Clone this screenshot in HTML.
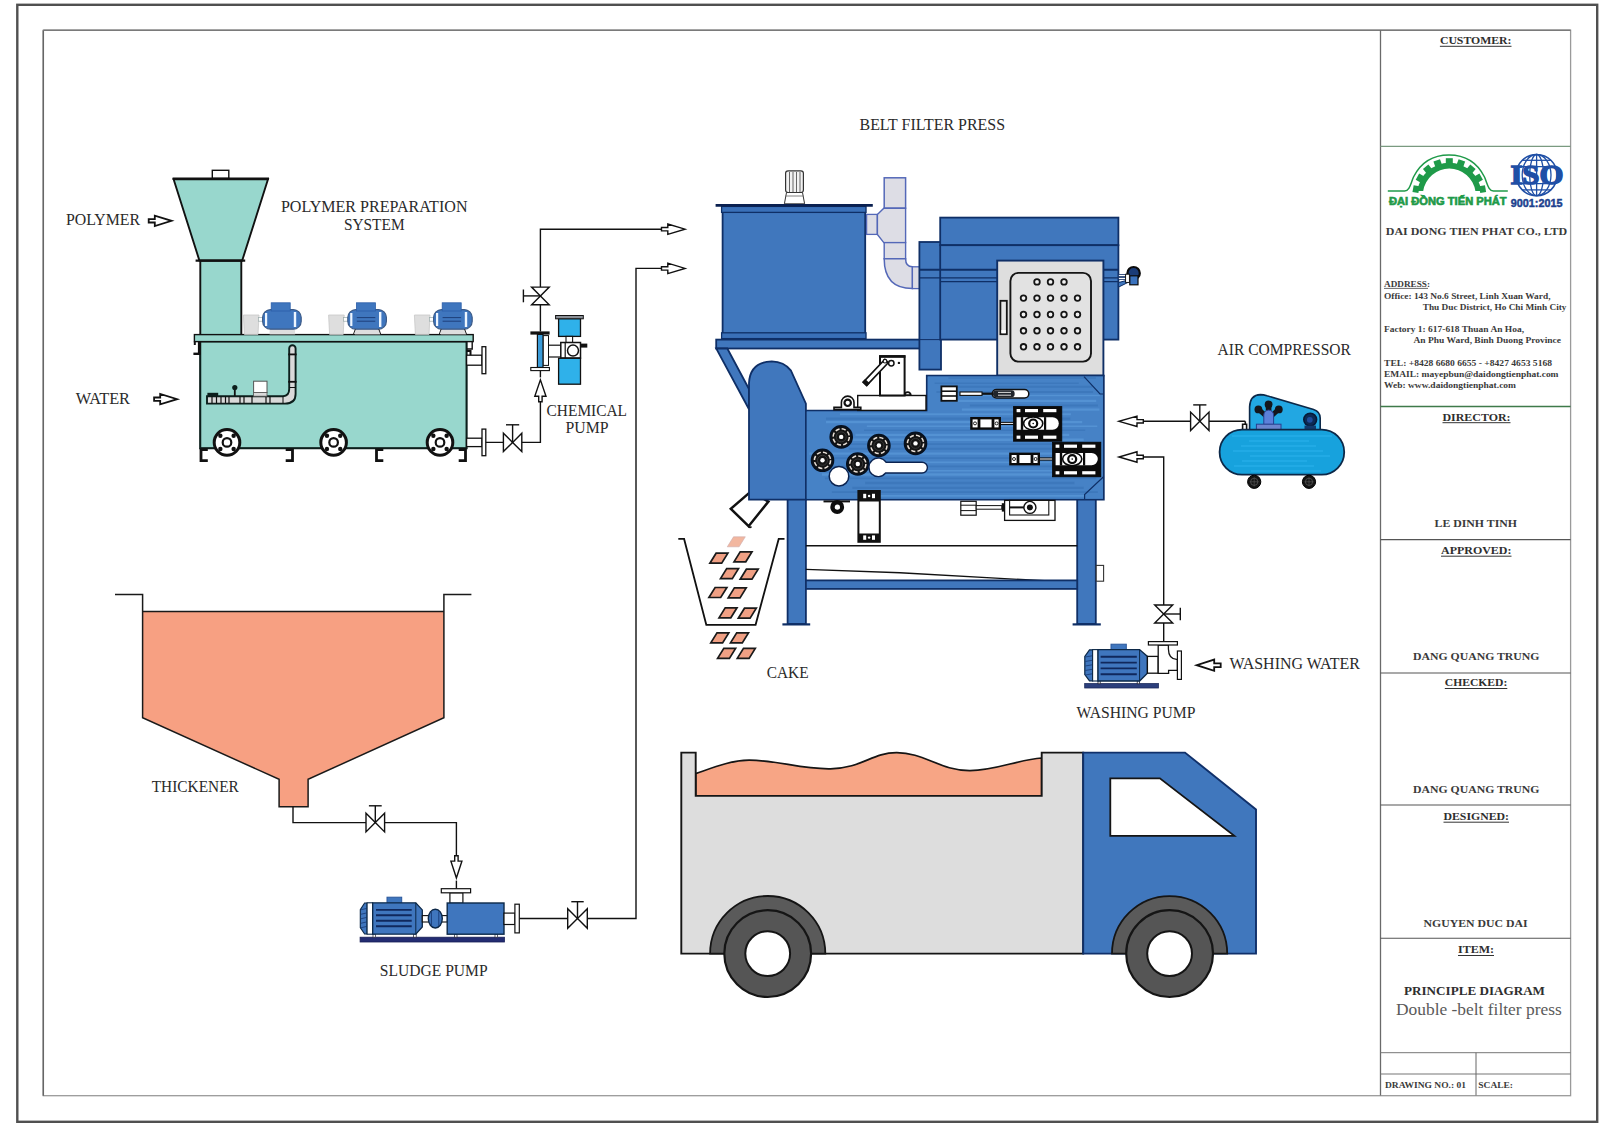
<!DOCTYPE html>
<html lang="en"><head><meta charset="utf-8"><title>Principle diagram - Double-belt filter press</title>
<style>html,body{margin:0;padding:0;background:#fff;}body{width:1600px;height:1140px;overflow:hidden;}svg{display:block;}</style>
</head><body>
<svg width="1600" height="1140" viewBox="0 0 1600 1140">
<rect x="0" y="0" width="1600" height="1140" fill="#ffffff"/>
<!-- sheet borders -->
<rect x="17.3" y="4.8" width="1579.9" height="1117" fill="none" stroke="#505050" stroke-width="2.4" />
<rect x="43.3" y="30.2" width="1527.3" height="1065.5" fill="none" stroke="#9a9a9a" stroke-width="1.3" />
<line x1="43.3" y1="30.2" x2="43.3" y2="1095.7" stroke="#666" stroke-width="1.5" />
<line x1="43.3" y1="30.2" x2="1570.6" y2="30.2" stroke="#7a7a7a" stroke-width="1.4" />
<!-- title block -->
<line x1="1380.5" y1="30.2" x2="1380.5" y2="1095.4" stroke="#6a6a6a" stroke-width="1.3" />
<line x1="1380.5" y1="146.4" x2="1570.6" y2="146.4" stroke="#7a9a80" stroke-width="1.1" />
<line x1="1380.5" y1="406.5" x2="1570.6" y2="406.5" stroke="#3e7a4a" stroke-width="1.3" />
<line x1="1380.5" y1="539.6" x2="1570.6" y2="539.6" stroke="#555" stroke-width="1.1" />
<line x1="1380.5" y1="673" x2="1570.6" y2="673" stroke="#555" stroke-width="1.1" />
<line x1="1380.5" y1="805" x2="1570.6" y2="805" stroke="#555" stroke-width="1.1" />
<line x1="1380.5" y1="938.3" x2="1570.6" y2="938.3" stroke="#555" stroke-width="1.1" />
<line x1="1380.5" y1="1052.7" x2="1570.6" y2="1052.7" stroke="#777" stroke-width="1" />
<line x1="1380.5" y1="1074" x2="1570.6" y2="1074" stroke="#777" stroke-width="1.2" />
<line x1="1476" y1="1052.7" x2="1476" y2="1095.4" stroke="#666" stroke-width="1" />
<text x="1439.9" y="44.1" font-size="10.7" font-weight="bold" fill="#2e2e2e" textLength="71.6" lengthAdjust="spacingAndGlyphs" font-family="'Liberation Serif','Times New Roman',serif" >CUSTOMER:</text>
<line x1="1439.9" y1="46.3" x2="1511.5" y2="46.3" stroke="#333" stroke-width="1" />
<text x="1442.5" y="420.5" font-size="10.7" font-weight="bold" fill="#2e2e2e" textLength="68" lengthAdjust="spacingAndGlyphs" font-family="'Liberation Serif','Times New Roman',serif" >DIRECTOR:</text>
<line x1="1442.5" y1="422.7" x2="1510.5" y2="422.7" stroke="#333" stroke-width="1" />
<text x="1441" y="554" font-size="10.7" font-weight="bold" fill="#2e2e2e" textLength="70.5" lengthAdjust="spacingAndGlyphs" font-family="'Liberation Serif','Times New Roman',serif" >APPROVED:</text>
<line x1="1441" y1="556.2" x2="1511.5" y2="556.2" stroke="#333" stroke-width="1" />
<text x="1444.8" y="686.3" font-size="10.7" font-weight="bold" fill="#2e2e2e" textLength="62.5" lengthAdjust="spacingAndGlyphs" font-family="'Liberation Serif','Times New Roman',serif" >CHECKED:</text>
<line x1="1444.8" y1="688.5" x2="1507.3" y2="688.5" stroke="#333" stroke-width="1" />
<text x="1443.5" y="820" font-size="10.7" font-weight="bold" fill="#2e2e2e" textLength="65.5" lengthAdjust="spacingAndGlyphs" font-family="'Liberation Serif','Times New Roman',serif" >DESIGNED:</text>
<line x1="1443.5" y1="822.2" x2="1509" y2="822.2" stroke="#333" stroke-width="1" />
<text x="1458" y="953.3" font-size="10.7" font-weight="bold" fill="#2e2e2e" textLength="36" lengthAdjust="spacingAndGlyphs" font-family="'Liberation Serif','Times New Roman',serif" >ITEM:</text>
<line x1="1458" y1="955.5" x2="1494" y2="955.5" stroke="#333" stroke-width="1" />
<text x="1434.5" y="526.7" font-size="10.6" font-weight="bold" fill="#3a3a3a" textLength="82.5" lengthAdjust="spacingAndGlyphs" font-family="'Liberation Serif','Times New Roman',serif" >LE DINH TINH</text>
<text x="1413" y="660.2" font-size="10.6" font-weight="bold" fill="#3a3a3a" textLength="126.5" lengthAdjust="spacingAndGlyphs" font-family="'Liberation Serif','Times New Roman',serif" >DANG QUANG TRUNG</text>
<text x="1413" y="792.9" font-size="10.6" font-weight="bold" fill="#3a3a3a" textLength="126.5" lengthAdjust="spacingAndGlyphs" font-family="'Liberation Serif','Times New Roman',serif" >DANG QUANG TRUNG</text>
<text x="1423.5" y="926.7" font-size="10.6" font-weight="bold" fill="#3a3a3a" textLength="104" lengthAdjust="spacingAndGlyphs" font-family="'Liberation Serif','Times New Roman',serif" >NGUYEN DUC DAI</text>
<text x="1385.8" y="235.2" font-size="10.9" font-weight="bold" fill="#3a3a3a" textLength="181.4" lengthAdjust="spacingAndGlyphs" font-family="'Liberation Serif','Times New Roman',serif" >DAI DONG TIEN PHAT CO., LTD</text>
<text x="1384" y="286.8" font-size="8.8" font-weight="bold" fill="#3a3a3a" textLength="46" lengthAdjust="spacingAndGlyphs" font-family="'Liberation Serif','Times New Roman',serif" >ADDRESS:</text>
<line x1="1384" y1="288.4" x2="1428" y2="288.4" stroke="#444" stroke-width="0.8" />
<text x="1384" y="298.8" font-size="8.6" font-weight="bold" fill="#3a3a3a" textLength="166.5" lengthAdjust="spacingAndGlyphs" font-family="'Liberation Serif','Times New Roman',serif" >Office: 143 No.6 Street, Linh Xuan Ward,</text>
<text x="1422.7" y="310" font-size="8.6" font-weight="bold" fill="#3a3a3a" textLength="143.8" lengthAdjust="spacingAndGlyphs" font-family="'Liberation Serif','Times New Roman',serif" >Thu Duc District, Ho Chi Minh City</text>
<text x="1384" y="332" font-size="8.6" font-weight="bold" fill="#3a3a3a" textLength="140" lengthAdjust="spacingAndGlyphs" font-family="'Liberation Serif','Times New Roman',serif" >Factory 1: 617-618 Thuan An Hoa,</text>
<text x="1413.5" y="343" font-size="8.6" font-weight="bold" fill="#3a3a3a" textLength="147.5" lengthAdjust="spacingAndGlyphs" font-family="'Liberation Serif','Times New Roman',serif" >An Phu Ward, Binh Duong Province</text>
<text x="1384" y="365.6" font-size="8.6" font-weight="bold" fill="#3a3a3a" textLength="168" lengthAdjust="spacingAndGlyphs" font-family="'Liberation Serif','Times New Roman',serif" >TEL: +8428 6680 6655 - +8427 4653 5168</text>
<text x="1384" y="377.2" font-size="8.8" font-weight="bold" fill="#3a3a3a" textLength="174.5" lengthAdjust="spacingAndGlyphs" font-family="'Liberation Serif','Times New Roman',serif" >EMAIL: mayepbun@daidongtienphat.com</text>
<text x="1384" y="388.3" font-size="8.6" font-weight="bold" fill="#3a3a3a" textLength="132" lengthAdjust="spacingAndGlyphs" font-family="'Liberation Serif','Times New Roman',serif" >Web: www.daidongtienphat.com</text>
<text x="1404" y="995" font-size="12.6" font-weight="bold" fill="#2e2e2e" textLength="141" lengthAdjust="spacingAndGlyphs" font-family="'Liberation Serif','Times New Roman',serif" >PRINCIPLE DIAGRAM</text>
<text x="1396" y="1015" font-size="17" font-weight="normal" fill="#5a5a5a" textLength="165.7" lengthAdjust="spacingAndGlyphs" font-family="'Liberation Serif','Times New Roman',serif" >Double -belt filter press</text>
<text x="1385" y="1088.4" font-size="8.8" font-weight="bold" fill="#3a3a3a" textLength="81" lengthAdjust="spacingAndGlyphs" font-family="'Liberation Serif','Times New Roman',serif" >DRAWING NO.: 01</text>
<text x="1478.3" y="1088.4" font-size="8.8" font-weight="bold" fill="#3a3a3a" textLength="34.7" lengthAdjust="spacingAndGlyphs" font-family="'Liberation Serif','Times New Roman',serif" >SCALE:</text>
<!-- logo -->
<path d="M 1387.8 191 L 1404.6 191 C 1409.5 191 1410.5 184 1413.5 177 C 1421 162 1434 155 1449 155 C 1464 155 1477 162 1484.5 177 C 1487.5 184 1488.5 191 1493.4 191 L 1507.8 191" fill="none" stroke="#1f9a49" stroke-width="1.5" />
<path d="M 1417.35 191 A 32.2 32.2 0 0 1 1481.25 191 L 1475.4 191 A 26.4 26.4 0 0 0 1423.2 191 Z" fill="#1f9a49" stroke="none" stroke-width="1" />
<rect x="-3.5" y="-3.0" width="7.0" height="6.0" fill="#1f9a49" transform="translate(1416.01 189.13) rotate(280)"/>
<rect x="-3.5" y="-3.0" width="7.0" height="6.0" fill="#1f9a49" transform="translate(1420.03 178.1) rotate(300)"/>
<rect x="-3.5" y="-3.0" width="7.0" height="6.0" fill="#1f9a49" transform="translate(1427.57 169.11) rotate(320)"/>
<rect x="-3.5" y="-3.0" width="7.0" height="6.0" fill="#1f9a49" transform="translate(1437.74 163.24) rotate(340)"/>
<rect x="-3.5" y="-3.0" width="7.0" height="6.0" fill="#1f9a49" transform="translate(1449.3 161.2) rotate(360)"/>
<rect x="-3.5" y="-3.0" width="7.0" height="6.0" fill="#1f9a49" transform="translate(1460.86 163.24) rotate(380)"/>
<rect x="-3.5" y="-3.0" width="7.0" height="6.0" fill="#1f9a49" transform="translate(1471.03 169.11) rotate(400)"/>
<rect x="-3.5" y="-3.0" width="7.0" height="6.0" fill="#1f9a49" transform="translate(1478.57 178.1) rotate(420)"/>
<rect x="-3.5" y="-3.0" width="7.0" height="6.0" fill="#1f9a49" transform="translate(1482.59 189.13) rotate(440)"/>
<text x="1389" y="204.8" font-size="11.7" font-weight="bold" fill="#1f9a49" textLength="117.6" lengthAdjust="spacingAndGlyphs" font-family="'Liberation Sans',Arial,sans-serif" stroke="#1f9a49" stroke-width="0.7">ĐẠI ĐỒNG TIẾN PHÁT</text>
<circle cx="1536.6" cy="175.1" r="20.6" fill="none" stroke="#1f4fa6" stroke-width="1.6" />
<ellipse cx="1536.6" cy="175.1" rx="7" ry="20.6" fill="none" stroke="#1f4fa6" stroke-width="1.3"/>
<ellipse cx="1536.6" cy="175.1" rx="14.4" ry="20.6" fill="none" stroke="#1f4fa6" stroke-width="1.3"/>
<line x1="1536.6" y1="154.5" x2="1536.6" y2="195.7" stroke="#1f4fa6" stroke-width="1.3" />
<line x1="1522.27" y1="160.3" x2="1550.93" y2="160.3" stroke="#1f4fa6" stroke-width="1.3" />
<line x1="1517.84" y1="166.6" x2="1555.36" y2="166.6" stroke="#1f4fa6" stroke-width="1.3" />
<line x1="1517.84" y1="183.6" x2="1555.36" y2="183.6" stroke="#1f4fa6" stroke-width="1.3" />
<line x1="1522.27" y1="189.9" x2="1550.93" y2="189.9" stroke="#1f4fa6" stroke-width="1.3" />
<text x="1510.4" y="184.4" font-size="27.5" font-weight="bold" fill="#1f4fa6" textLength="53" lengthAdjust="spacingAndGlyphs" font-family="'Liberation Serif','Times New Roman',serif" stroke="#1f4fa6" stroke-width="1.5" paint-order="stroke">ISO</text>
<rect x="1510" y="197.4" width="53.4" height="10" fill="#fff" stroke="none" stroke-width="1" />
<text x="1510.8" y="206.6" font-size="11.7" font-weight="bold" fill="#1c3f8e" textLength="51.6" lengthAdjust="spacingAndGlyphs" font-family="'Liberation Sans',Arial,sans-serif" stroke="#1c3f8e" stroke-width="0.5">9001:2015</text>
<!-- polymer preparation system -->
<rect x="212.3" y="170.3" width="16.5" height="8.2" fill="#fff" stroke="#111" stroke-width="1.4" />
<rect x="200.3" y="260.5" width="41" height="74.5" fill="#98d7cd" stroke="#111" stroke-width="1.9" />
<polygon points="173.6,179.3 268,179.3 242.2,260.5 199.4,260.5" fill="#98d7cd" stroke="#111" stroke-width="1.9" stroke-linejoin="miter" />
<line x1="172.6" y1="178.8" x2="269" y2="178.8" stroke="#111" stroke-width="2.6" />
<line x1="195.6" y1="260.6" x2="245.2" y2="260.6" stroke="#111" stroke-width="2.4" />
<rect x="200.2" y="341.4" width="266.4" height="106.8" fill="#98d7cd" stroke="#0c1f1c" stroke-width="2.1" />
<rect x="194.4" y="334.6" width="278.8" height="7" fill="#98d7cd" stroke="#111" stroke-width="1.4" />
<line x1="199.4" y1="341.6" x2="199.4" y2="354.6" stroke="#111" stroke-width="3" />
<line x1="193.4" y1="353.8" x2="200.4" y2="353.8" stroke="#111" stroke-width="2.4" />
<line x1="194.8" y1="341.4" x2="194.8" y2="345" stroke="#111" stroke-width="2" />
<polyline points="472.2,341.6 472.2,349 467,349" fill="none" stroke="#111" stroke-width="1.4" />
<polyline points="207.8,449.6 201,449.6 201,460.6 207.8,460.6" fill="none" stroke="#111" stroke-width="2.8" />
<polyline points="285.7,449.6 292.5,449.6 292.5,460.6 285.7,460.6" fill="none" stroke="#111" stroke-width="2.8" />
<polyline points="383.3,449.6 376.5,449.6 376.5,460.6 383.3,460.6" fill="none" stroke="#111" stroke-width="2.8" />
<polyline points="458.7,449.6 465.5,449.6 465.5,460.6 458.7,460.6" fill="none" stroke="#111" stroke-width="2.8" />
<circle cx="227" cy="442.4" r="12.8" fill="#fff" stroke="#111" stroke-width="3" />
<circle cx="227" cy="442.4" r="4.3" fill="#fff" stroke="#111" stroke-width="2.2" />
<circle cx="233.65" cy="449.05" r="2.2" fill="#111" stroke="none" stroke-width="1" />
<circle cx="220.35" cy="449.05" r="2.2" fill="#111" stroke="none" stroke-width="1" />
<circle cx="220.35" cy="435.75" r="2.2" fill="#111" stroke="none" stroke-width="1" />
<circle cx="233.65" cy="435.75" r="2.2" fill="#111" stroke="none" stroke-width="1" />
<circle cx="333.6" cy="442.4" r="12.8" fill="#fff" stroke="#111" stroke-width="3" />
<circle cx="333.6" cy="442.4" r="4.3" fill="#fff" stroke="#111" stroke-width="2.2" />
<circle cx="340.25" cy="449.05" r="2.2" fill="#111" stroke="none" stroke-width="1" />
<circle cx="326.95" cy="449.05" r="2.2" fill="#111" stroke="none" stroke-width="1" />
<circle cx="326.95" cy="435.75" r="2.2" fill="#111" stroke="none" stroke-width="1" />
<circle cx="340.25" cy="435.75" r="2.2" fill="#111" stroke="none" stroke-width="1" />
<circle cx="440" cy="442.4" r="12.8" fill="#fff" stroke="#111" stroke-width="3" />
<circle cx="440" cy="442.4" r="4.3" fill="#fff" stroke="#111" stroke-width="2.2" />
<circle cx="446.65" cy="449.05" r="2.2" fill="#111" stroke="none" stroke-width="1" />
<circle cx="433.35" cy="449.05" r="2.2" fill="#111" stroke="none" stroke-width="1" />
<circle cx="433.35" cy="435.75" r="2.2" fill="#111" stroke="none" stroke-width="1" />
<circle cx="446.65" cy="435.75" r="2.2" fill="#111" stroke="none" stroke-width="1" />
<rect x="466.6" y="355.2" width="15.4" height="10" fill="#fff" stroke="#111" stroke-width="1.3" />
<rect x="482" y="346.7" width="3.8" height="27" fill="#fff" stroke="#111" stroke-width="1.3" />
<polyline points="466.8,351 470.5,351 470.5,355.2" fill="none" stroke="#111" stroke-width="2" />
<rect x="466.6" y="438.2" width="15.4" height="8.4" fill="#fff" stroke="#111" stroke-width="1.3" />
<rect x="482" y="429.1" width="3.8" height="26.6" fill="#fff" stroke="#111" stroke-width="1.3" />
<path d="M 207 396.2 L 283 396.2 Q 289.2 396 289.2 389 L 289.2 348.5 A 3.2 3.2 0 0 1 295.6 348.5 L 295.6 394 Q 295.6 403.6 285 403.6 L 207 403.6 Z" fill="#d9d9d9" stroke="#0c1f1c" stroke-width="1.9" />
<line x1="212" y1="396.2" x2="212" y2="403.6" stroke="#111" stroke-width="1.2" />
<line x1="216.5" y1="396.2" x2="216.5" y2="403.6" stroke="#111" stroke-width="1.2" />
<line x1="221" y1="396.2" x2="221" y2="403.6" stroke="#111" stroke-width="1.2" />
<line x1="225.5" y1="396.2" x2="225.5" y2="403.6" stroke="#111" stroke-width="1.2" />
<line x1="229" y1="396.2" x2="229" y2="403.6" stroke="#111" stroke-width="1.2" />
<line x1="240" y1="396.2" x2="240" y2="403.6" stroke="#111" stroke-width="1.2" />
<line x1="244" y1="396.2" x2="244" y2="403.6" stroke="#111" stroke-width="1.2" />
<line x1="252" y1="396.2" x2="252" y2="403.6" stroke="#111" stroke-width="1.2" />
<line x1="266" y1="396.2" x2="266" y2="403.6" stroke="#111" stroke-width="1.2" />
<line x1="270" y1="396.2" x2="270" y2="403.6" stroke="#111" stroke-width="1.2" />
<rect x="207.4" y="392.8" width="10.8" height="3.4" fill="#0c1f1c" stroke="none" stroke-width="1" />
<line x1="288.2" y1="354.4" x2="296.6" y2="354.4" stroke="#111" stroke-width="1.8" />
<line x1="288.2" y1="381.8" x2="296.6" y2="381.8" stroke="#111" stroke-width="1.8" />
<line x1="289.2" y1="387.5" x2="295.6" y2="387.5" stroke="#111" stroke-width="1" />
<line x1="283" y1="396.2" x2="283" y2="403.6" stroke="#111" stroke-width="1" />
<line x1="234.8" y1="396" x2="234.8" y2="388.5" stroke="#111" stroke-width="1.8" />
<circle cx="234.8" cy="387.6" r="2.6" fill="#0c1f1c" stroke="none" stroke-width="1" />
<rect x="253.6" y="381.2" width="13.4" height="11.3" fill="#fff" stroke="#555" stroke-width="1" />
<rect x="253.6" y="392.5" width="13.4" height="3.7" fill="#d9d9d9" stroke="#555" stroke-width="0.8" />
<polygon points="243.4,315 259,315 258,334.4 244.4,334.4" fill="#dedede" stroke="#c8c8c8" stroke-width="0.8" stroke-linejoin="miter" />
<rect x="258.4" y="317.6" width="6" height="3.6" fill="#fff" stroke="#9aa" stroke-width="0.7" />
<rect x="269.6" y="328.5" width="25.5" height="5.9" fill="#dedede" stroke="none" stroke-width="1" />
<rect x="262.6" y="309.6" width="38.6" height="19.6" fill="#3f76be" stroke="#3c5a86" stroke-width="1.2" rx="8" />
<rect x="265" y="313" width="2.2" height="13" fill="#eef6ff" stroke="none" stroke-width="1" />
<rect x="293.8" y="312" width="2.4" height="15" fill="#eef6ff" stroke="none" stroke-width="1" />
<rect x="271.2" y="302.8" width="19" height="8.2" fill="#3f76be" stroke="#2b5ea8" stroke-width="0.8" />
<polygon points="328.6,315 344.2,315 343.2,334.4 329.6,334.4" fill="#dedede" stroke="#c8c8c8" stroke-width="0.8" stroke-linejoin="miter" />
<rect x="343.6" y="317.6" width="6" height="3.6" fill="#fff" stroke="#9aa" stroke-width="0.7" />
<rect x="354.8" y="328.5" width="25.5" height="5.9" fill="#dedede" stroke="none" stroke-width="1" />
<rect x="347.8" y="309.6" width="38.6" height="19.6" fill="#3f76be" stroke="#3c5a86" stroke-width="1.2" rx="8" />
<rect x="350.2" y="313" width="2.2" height="13" fill="#eef6ff" stroke="none" stroke-width="1" />
<rect x="379" y="312" width="2.4" height="15" fill="#eef6ff" stroke="none" stroke-width="1" />
<rect x="356.4" y="302.8" width="19" height="8.2" fill="#3f76be" stroke="#2b5ea8" stroke-width="0.8" />
<line x1="356.8" y1="317.6" x2="375.3" y2="317.6" stroke="#1d3f7a" stroke-width="1" />
<line x1="356.8" y1="321.2" x2="375.3" y2="321.2" stroke="#1d3f7a" stroke-width="1" />
<line x1="355.3" y1="329.2" x2="353.4" y2="334.4" stroke="#222" stroke-width="1" />
<line x1="378.8" y1="329.2" x2="380.8" y2="334.4" stroke="#222" stroke-width="1" />
<polygon points="414.4,315 430,315 429,334.4 415.4,334.4" fill="#dedede" stroke="#c8c8c8" stroke-width="0.8" stroke-linejoin="miter" />
<rect x="429.4" y="317.6" width="6" height="3.6" fill="#fff" stroke="#9aa" stroke-width="0.7" />
<rect x="440.6" y="328.5" width="25.5" height="5.9" fill="#dedede" stroke="none" stroke-width="1" />
<rect x="433.6" y="309.6" width="38.6" height="19.6" fill="#3f76be" stroke="#3c5a86" stroke-width="1.2" rx="8" />
<rect x="436" y="313" width="2.2" height="13" fill="#eef6ff" stroke="none" stroke-width="1" />
<rect x="464.8" y="312" width="2.4" height="15" fill="#eef6ff" stroke="none" stroke-width="1" />
<rect x="442.2" y="302.8" width="19" height="8.2" fill="#3f76be" stroke="#2b5ea8" stroke-width="0.8" />
<line x1="442.6" y1="317.6" x2="461.1" y2="317.6" stroke="#1d3f7a" stroke-width="1" />
<line x1="442.6" y1="321.2" x2="461.1" y2="321.2" stroke="#1d3f7a" stroke-width="1" />
<line x1="441.1" y1="329.2" x2="439.2" y2="334.4" stroke="#222" stroke-width="1" />
<line x1="464.6" y1="329.2" x2="466.6" y2="334.4" stroke="#222" stroke-width="1" />
<!-- chemical dosing line -->
<polyline points="485.8,442.4 540.4,442.4 540.4,396.5" fill="none" stroke="#111" stroke-width="1.4" />
<polygon points="503.4,433.2 503.4,451.6 512.6,442.4" fill="#fff" stroke="#111" stroke-width="1.4" stroke-linejoin="miter" />
<polygon points="521.8,433.2 521.8,451.6 512.6,442.4" fill="#fff" stroke="#111" stroke-width="1.4" stroke-linejoin="miter" />
<line x1="512.6" y1="442.4" x2="512.6" y2="424.8" stroke="#111" stroke-width="1.4" />
<line x1="506" y1="424.8" x2="519.2" y2="424.8" stroke="#111" stroke-width="1.4" />
<polygon points="538.7,401.7 538.7,396.2 534.8,396.2 540.4,379.85 546,396.2 542.1,396.2 542.1,401.7" fill="#fff" stroke="#111" stroke-width="1.4" stroke-linejoin="miter" />
<line x1="540.4" y1="377.4" x2="540.4" y2="370.6" stroke="#111" stroke-width="1.4" />
<polyline points="540.4,331.6 540.4,229.2 661,229.2" fill="none" stroke="#111" stroke-width="1.4" />
<polygon points="531.6,287.1 549.2,287.1 540.4,295.9" fill="#fff" stroke="#111" stroke-width="1.4" stroke-linejoin="miter" />
<polygon points="531.6,304.7 549.2,304.7 540.4,295.9" fill="#fff" stroke="#111" stroke-width="1.4" stroke-linejoin="miter" />
<line x1="540.4" y1="295.9" x2="523.4" y2="295.9" stroke="#111" stroke-width="1.4" />
<line x1="523.4" y1="289.5" x2="523.4" y2="302.3" stroke="#111" stroke-width="1.4" />
<polygon points="661.5,227.5 667.8,227.5 667.8,224 685.02,229.2 667.8,234.4 667.8,230.9 661.5,230.9" fill="#fff" stroke="#111" stroke-width="1.4" stroke-linejoin="miter" />
<polygon points="661.5,266.7 667.8,266.7 667.8,263.2 685.02,268.4 667.8,273.6 667.8,270.1 661.5,270.1" fill="#fff" stroke="#111" stroke-width="1.4" stroke-linejoin="miter" />
<rect x="543" y="335.6" width="5.5" height="29.8" fill="#fff" stroke="#111" stroke-width="1" />
<rect x="537.4" y="334.4" width="5.6" height="33.1" fill="#3b9bd8" stroke="#111" stroke-width="1.2" />
<rect x="530.4" y="331.4" width="19.2" height="3.2" fill="#111" stroke="none" stroke-width="1" />
<rect x="530.8" y="367.5" width="18.6" height="3.1" fill="#fff" stroke="#111" stroke-width="1.1" />
<line x1="548.5" y1="345.2" x2="561" y2="345.2" stroke="#111" stroke-width="1.2" />
<line x1="548.5" y1="357" x2="561" y2="357" stroke="#111" stroke-width="1.2" />
<rect x="558.6" y="318.6" width="21.9" height="17.8" fill="#2fb1ea" stroke="#111" stroke-width="1.3" />
<rect x="555.6" y="315.5" width="27.7" height="3.3" fill="#8a8f96" stroke="#111" stroke-width="1" />
<rect x="566" y="336.4" width="6.6" height="6.1" fill="#fff" stroke="#111" stroke-width="1.1" />
<rect x="560.8" y="342.5" width="19.7" height="15.5" fill="#fff" stroke="#111" stroke-width="1.5" />
<line x1="565.2" y1="342.5" x2="565.2" y2="358" stroke="#111" stroke-width="1.2" />
<circle cx="573" cy="350.6" r="5.5" fill="#fff" stroke="#111" stroke-width="1.5" />
<rect x="580.5" y="343.6" width="6.8" height="4" fill="#111" stroke="none" stroke-width="1" />
<rect x="558.6" y="358.3" width="21.9" height="25.9" fill="#2fb1ea" stroke="#111" stroke-width="1.3" />
<!-- belt filter press -->
<polyline points="678.3,538.9 684.1,538.9 706.3,624.8 755.6,624.8 778.7,538.9 784.5,538.9" fill="none" stroke="#111" stroke-width="1.8" />
<polygon points="733.5,536.8 745.3,536.8 739.1,546.8 727.3,546.8" fill="#f2b7a0" stroke="#caa" stroke-width="0.6" stroke-linejoin="miter" />
<polygon points="716.1,553.2 727.9,553.2 721.7,563.2 709.9,563.2" fill="#f0a084" stroke="#1a1a1a" stroke-width="1.7" stroke-linejoin="miter" />
<polygon points="740.2,551.8 752,551.8 745.8,561.8 734,561.8" fill="#f0a084" stroke="#1a1a1a" stroke-width="1.7" stroke-linejoin="miter" />
<polygon points="726.7,568.6 738.5,568.6 732.3,578.6 720.5,578.6" fill="#f0a084" stroke="#1a1a1a" stroke-width="1.7" stroke-linejoin="miter" />
<polygon points="746.4,569.2 758.2,569.2 752,579.2 740.2,579.2" fill="#f0a084" stroke="#1a1a1a" stroke-width="1.7" stroke-linejoin="miter" />
<polygon points="715.1,587.5 726.9,587.5 720.7,597.5 708.9,597.5" fill="#f0a084" stroke="#1a1a1a" stroke-width="1.7" stroke-linejoin="miter" />
<polygon points="734.4,587.9 746.2,587.9 740,597.9 728.2,597.9" fill="#f0a084" stroke="#1a1a1a" stroke-width="1.7" stroke-linejoin="miter" />
<polygon points="725.2,607.8 737,607.8 730.8,617.8 719,617.8" fill="#f0a084" stroke="#1a1a1a" stroke-width="1.7" stroke-linejoin="miter" />
<polygon points="744.5,608.2 756.3,608.2 750.1,618.2 738.3,618.2" fill="#f0a084" stroke="#1a1a1a" stroke-width="1.7" stroke-linejoin="miter" />
<polygon points="717,632.9 728.8,632.9 722.6,642.9 710.8,642.9" fill="#f0a084" stroke="#1a1a1a" stroke-width="1.7" stroke-linejoin="miter" />
<polygon points="736.7,632.9 748.5,632.9 742.3,642.9 730.5,642.9" fill="#f0a084" stroke="#1a1a1a" stroke-width="1.7" stroke-linejoin="miter" />
<polygon points="723.8,648.4 735.6,648.4 729.4,658.4 717.6,658.4" fill="#f0a084" stroke="#1a1a1a" stroke-width="1.7" stroke-linejoin="miter" />
<polygon points="743.5,648.4 755.3,648.4 749.1,658.4 737.3,658.4" fill="#f0a084" stroke="#1a1a1a" stroke-width="1.7" stroke-linejoin="miter" />
<polygon points="751,491.4 730.8,508.8 748.6,526.2 768.4,501.6" fill="#fff" stroke="#111" stroke-width="2.5" stroke-linejoin="miter" />
<path d="M 748.4 526.3 q 1.5 2.2 3 0.2" fill="none" stroke="#111" stroke-width="1.6" />
<rect x="785.6" y="170.8" width="17.8" height="21.7" fill="#f2f2f2" stroke="#333" stroke-width="1.2" rx="2.5" />
<line x1="789.5" y1="172" x2="789.5" y2="192" stroke="#555" stroke-width="0.9" />
<line x1="793" y1="172" x2="793" y2="192" stroke="#555" stroke-width="0.9" />
<line x1="796.5" y1="172" x2="796.5" y2="192" stroke="#555" stroke-width="0.9" />
<line x1="800" y1="172" x2="800" y2="192" stroke="#555" stroke-width="0.9" />
<polygon points="786.5,192.5 802.5,192.5 804.6,203.8 784.4,203.8" fill="#fff" stroke="#333" stroke-width="1" stroke-linejoin="miter" />
<line x1="785.6" y1="196" x2="803.4" y2="196" stroke="#666" stroke-width="0.8" />
<rect x="722.6" y="206.2" width="142.6" height="132" fill="#4077bd" stroke="#0f2f66" stroke-width="1.8" />
<rect x="721.6" y="332.8" width="144.4" height="5.8" fill="#3a70b8" stroke="#0f2f66" stroke-width="1.3" />
<rect x="721.6" y="206.4" width="144.4" height="6" fill="#3a70b8" stroke="#0f2f66" stroke-width="1.3" />
<line x1="715.6" y1="205.4" x2="872.8" y2="205.4" stroke="#0a2050" stroke-width="2.8" />
<rect x="884.2" y="177.8" width="21.4" height="30.4" fill="#dddde5" stroke="#5468b8" stroke-width="1.5" />
<rect x="866.6" y="214.4" width="10.8" height="20" fill="#dddde5" stroke="#5468b8" stroke-width="1.3" />
<path d="M 877.4 214.4 L 883.8 208.2 L 905.6 208.2 L 905.6 242.6 L 883.8 242.6 L 877.4 234.4 Z" fill="#dddde5" stroke="#5468b8" stroke-width="1.4" />
<line x1="877.4" y1="214.4" x2="877.4" y2="234.4" stroke="#5468b8" stroke-width="1.1" />
<rect x="884.2" y="242.6" width="21.4" height="16.2" fill="#dddde5" stroke="#5468b8" stroke-width="1.4" />
<path d="M 884.2 258.8 L 905.6 258.8 Q 905.6 266.8 912.4 266.8 L 912.4 288.6 Q 884.2 288.6 884.2 258.8 Z" fill="#dddde5" stroke="#5468b8" stroke-width="1.5" />
<rect x="912.4" y="266.8" width="7.2" height="21.8" fill="#dddde5" stroke="#5468b8" stroke-width="1.3" />
<rect x="716.2" y="339.6" width="203.8" height="8.9" fill="#4077bd" stroke="#0f2f66" stroke-width="1.8" />
<polygon points="716.2,348.5 727.3,348.5 749,389 749,409.2" fill="#4077bd" stroke="#0f2f66" stroke-width="1.8" stroke-linejoin="miter" />
<rect x="787.6" y="499" width="18.3" height="125" fill="#4077bd" stroke="#0f2f66" stroke-width="1.8" />
<rect x="1077.2" y="499" width="18.6" height="125" fill="#4077bd" stroke="#0f2f66" stroke-width="1.8" />
<line x1="782.4" y1="624.4" x2="810.2" y2="624.4" stroke="#0f2f66" stroke-width="2.2" />
<line x1="1072.6" y1="624.4" x2="1100.8" y2="624.4" stroke="#0f2f66" stroke-width="2.2" />
<line x1="805.9" y1="545.8" x2="1077.2" y2="545.8" stroke="#111" stroke-width="1.5" />
<polyline points="805.9,569.4 900,572.8 1000,578.4 1077.2,582.4" fill="none" stroke="#111" stroke-width="1.4" />
<rect x="805.9" y="580.4" width="271.3" height="8.5" fill="#4077bd" stroke="#0f2f66" stroke-width="1.8" />
<rect x="1096.2" y="565.4" width="7.4" height="15.8" fill="#fff" stroke="#333" stroke-width="1.1" />
<rect x="919.4" y="242" width="21.6" height="127.6" fill="#4077bd" stroke="#0f2f66" stroke-width="1.8" />
<rect x="940.2" y="217.6" width="178.2" height="27.6" fill="#4077bd" stroke="#0f2f66" stroke-width="1.8" />
<rect x="940.2" y="245.2" width="178.2" height="94.4" fill="#4077bd" stroke="#0f2f66" stroke-width="1.8" />
<line x1="919.4" y1="269.8" x2="1118.4" y2="269.8" stroke="#0f2f66" stroke-width="1.9" />
<line x1="919.4" y1="277.8" x2="1118.4" y2="277.8" stroke="#0f2f66" stroke-width="1.3" />
<line x1="940.2" y1="281.6" x2="1118.4" y2="281.6" stroke="#0f2f66" stroke-width="1.3" />
<line x1="919.4" y1="339.6" x2="941" y2="339.6" stroke="#0f2f66" stroke-width="1" />
<polygon points="1118.4,287.2 1118.4,282.6 1129.6,279.6 1129.6,281.6" fill="#4077bd" stroke="#0f2f66" stroke-width="1" stroke-linejoin="miter" />
<rect x="1118.4" y="274.6" width="8.8" height="1.8" fill="#fff" stroke="#0f2f66" stroke-width="0.8" />
<rect x="1118.4" y="277.6" width="8.8" height="2" fill="#fff" stroke="#0f2f66" stroke-width="0.8" />
<circle cx="1133.6" cy="273.2" r="6.2" fill="#1a3c78" stroke="#0a0a0a" stroke-width="2.2" />
<rect x="1129.8" y="275.8" width="8.2" height="9" fill="#3a72bd" stroke="#0a0a0a" stroke-width="1.2" />
<rect x="1125.6" y="274.2" width="3.8" height="8.2" fill="#fff" stroke="#0a0a0a" stroke-width="0.9" />
<rect x="997.2" y="260.6" width="106.2" height="115" fill="#dedede" stroke="#0f2f66" stroke-width="1.9" />
<rect x="1010.4" y="272.9" width="80.6" height="88.7" fill="#e2e2e2" stroke="#151515" stroke-width="1.9" rx="8" />
<circle cx="1037" cy="281.9" r="2.8" fill="#f2f2f2" stroke="#151515" stroke-width="1.8" />
<circle cx="1050.5" cy="281.9" r="2.8" fill="#f2f2f2" stroke="#151515" stroke-width="1.8" />
<circle cx="1064" cy="281.9" r="2.8" fill="#f2f2f2" stroke="#151515" stroke-width="1.8" />
<circle cx="1023.5" cy="298.1" r="2.8" fill="#f2f2f2" stroke="#151515" stroke-width="1.8" />
<circle cx="1037" cy="298.1" r="2.8" fill="#f2f2f2" stroke="#151515" stroke-width="1.8" />
<circle cx="1050.5" cy="298.1" r="2.8" fill="#f2f2f2" stroke="#151515" stroke-width="1.8" />
<circle cx="1064" cy="298.1" r="2.8" fill="#f2f2f2" stroke="#151515" stroke-width="1.8" />
<circle cx="1077.5" cy="298.1" r="2.8" fill="#f2f2f2" stroke="#151515" stroke-width="1.8" />
<circle cx="1023.5" cy="314.5" r="2.8" fill="#f2f2f2" stroke="#151515" stroke-width="1.8" />
<circle cx="1037" cy="314.5" r="2.8" fill="#f2f2f2" stroke="#151515" stroke-width="1.8" />
<circle cx="1050.5" cy="314.5" r="2.8" fill="#f2f2f2" stroke="#151515" stroke-width="1.8" />
<circle cx="1064" cy="314.5" r="2.8" fill="#f2f2f2" stroke="#151515" stroke-width="1.8" />
<circle cx="1077.5" cy="314.5" r="2.8" fill="#f2f2f2" stroke="#151515" stroke-width="1.8" />
<circle cx="1023.5" cy="330.8" r="2.8" fill="#f2f2f2" stroke="#151515" stroke-width="1.8" />
<circle cx="1037" cy="330.8" r="2.8" fill="#f2f2f2" stroke="#151515" stroke-width="1.8" />
<circle cx="1050.5" cy="330.8" r="2.8" fill="#f2f2f2" stroke="#151515" stroke-width="1.8" />
<circle cx="1064" cy="330.8" r="2.8" fill="#f2f2f2" stroke="#151515" stroke-width="1.8" />
<circle cx="1077.5" cy="330.8" r="2.8" fill="#f2f2f2" stroke="#151515" stroke-width="1.8" />
<circle cx="1023.5" cy="346.8" r="2.8" fill="#f2f2f2" stroke="#151515" stroke-width="1.8" />
<circle cx="1037" cy="346.8" r="2.8" fill="#f2f2f2" stroke="#151515" stroke-width="1.8" />
<circle cx="1050.5" cy="346.8" r="2.8" fill="#f2f2f2" stroke="#151515" stroke-width="1.8" />
<circle cx="1064" cy="346.8" r="2.8" fill="#f2f2f2" stroke="#151515" stroke-width="1.8" />
<circle cx="1077.5" cy="346.8" r="2.8" fill="#f2f2f2" stroke="#151515" stroke-width="1.8" />
<rect x="1000.4" y="300.8" width="6.4" height="33.4" fill="#e6e6e6" stroke="#151515" stroke-width="1.8" />
<rect x="1001.4" y="330" width="4.4" height="3.2" fill="#fff" stroke="none" stroke-width="1" />
<path d="M 749 499.6 L 749 383 Q 750 362 771.8 361.4 Q 784 361.6 791 370.6 L 805.9 403.6 L 805.9 499.6 Z" fill="#4077bd" stroke="#0f2f66" stroke-width="1.8" />
<polygon points="805.9,410.6 926.8,410.6 926.8,375.6 1103.8,375.6 1103.8,499.6 805.9,499.6" fill="#4077bd" stroke="#0f2f66" stroke-width="1.8" stroke-linejoin="miter" />
<polygon points="806.8,411.5 927.7,411.5 927.7,376.5 1102.9,376.5 1102.9,498.7 806.8,498.7" fill="#4682c6" stroke="none" stroke-width="1" stroke-linejoin="miter" />
<line x1="948.43" y1="378" x2="1095.97" y2="378" stroke="#3a75b8" stroke-width="1.46" opacity="0.7"/>
<line x1="934.65" y1="383.21" x2="1078.69" y2="383.21" stroke="#3a75b8" stroke-width="1.66" opacity="0.7"/>
<line x1="954.09" y1="386.8" x2="1092.37" y2="386.8" stroke="#3a75b8" stroke-width="1.91" opacity="0.7"/>
<line x1="936.43" y1="392.01" x2="1093.07" y2="392.01" stroke="#3a75b8" stroke-width="2.1" opacity="0.7"/>
<line x1="964.13" y1="395.55" x2="1100.02" y2="395.55" stroke="#5a99d9" stroke-width="1.46" opacity="0.7"/>
<line x1="946.38" y1="400.84" x2="1096.23" y2="400.84" stroke="#5a99d9" stroke-width="2.09" opacity="0.7"/>
<line x1="969.92" y1="405.47" x2="1097.88" y2="405.47" stroke="#3a75b8" stroke-width="2.17" opacity="0.7"/>
<line x1="961.86" y1="409.69" x2="1099.49" y2="409.69" stroke="#5a99d9" stroke-width="2.14" opacity="0.7"/>
<line x1="839.9" y1="414.18" x2="1070.91" y2="414.18" stroke="#5a99d9" stroke-width="2.1" opacity="0.7"/>
<line x1="825.99" y1="418.58" x2="1070.22" y2="418.58" stroke="#3a75b8" stroke-width="2.34" opacity="0.7"/>
<line x1="826.01" y1="422.16" x2="1082.2" y2="422.16" stroke="#5a99d9" stroke-width="2.28" opacity="0.7"/>
<line x1="866.81" y1="426.19" x2="1097.28" y2="426.19" stroke="#5a99d9" stroke-width="1.6" opacity="0.7"/>
<line x1="864" y1="430.35" x2="1085.13" y2="430.35" stroke="#3a75b8" stroke-width="1.49" opacity="0.7"/>
<line x1="855.35" y1="434.97" x2="1069.27" y2="434.97" stroke="#5a99d9" stroke-width="2.23" opacity="0.7"/>
<line x1="842.79" y1="439.68" x2="1083.75" y2="439.68" stroke="#5a99d9" stroke-width="2.53" opacity="0.7"/>
<line x1="847.85" y1="444.13" x2="1099.57" y2="444.13" stroke="#3a75b8" stroke-width="1.77" opacity="0.7"/>
<line x1="848.87" y1="448.8" x2="1084.17" y2="448.8" stroke="#3a75b8" stroke-width="1.86" opacity="0.7"/>
<line x1="809.35" y1="453.67" x2="1083.53" y2="453.67" stroke="#5a99d9" stroke-width="2.13" opacity="0.7"/>
<line x1="821.09" y1="458.15" x2="1090.5" y2="458.15" stroke="#3a75b8" stroke-width="1.7" opacity="0.7"/>
<line x1="860.29" y1="462.41" x2="1098.78" y2="462.41" stroke="#5a99d9" stroke-width="1.88" opacity="0.7"/>
<line x1="816.22" y1="466.43" x2="1084.78" y2="466.43" stroke="#3a75b8" stroke-width="1.73" opacity="0.7"/>
<line x1="829.53" y1="470.74" x2="1066.63" y2="470.74" stroke="#5a99d9" stroke-width="1.58" opacity="0.7"/>
<line x1="821.92" y1="474.53" x2="1092.67" y2="474.53" stroke="#5a99d9" stroke-width="2.4" opacity="0.7"/>
<line x1="824.92" y1="478.33" x2="1096.17" y2="478.33" stroke="#3a75b8" stroke-width="1.84" opacity="0.7"/>
<line x1="865.19" y1="482.97" x2="1074.38" y2="482.97" stroke="#3a75b8" stroke-width="2.54" opacity="0.7"/>
<line x1="852.39" y1="487.81" x2="1083.73" y2="487.81" stroke="#3a75b8" stroke-width="2.36" opacity="0.7"/>
<line x1="831.94" y1="492.08" x2="1097.86" y2="492.08" stroke="#3a75b8" stroke-width="1.88" opacity="0.7"/>
<line x1="867.08" y1="495.9" x2="1084.37" y2="495.9" stroke="#5a99d9" stroke-width="1.81" opacity="0.7"/>
<polyline points="1084,376.6 1100,394 1103.8,394" fill="none" stroke="#0f2f66" stroke-width="1.2" />
<polyline points="1084.6,499 1084.6,494.5 1103.8,476.5" fill="none" stroke="#0f2f66" stroke-width="1.2" />
<rect x="857.7" y="395.5" width="68.3" height="14.9" fill="#fff" stroke="#111" stroke-width="1.4" />
<rect x="880" y="356.2" width="24.6" height="39.3" fill="#fff" stroke="#111" stroke-width="2" />
<rect x="879.2" y="355.2" width="26.2" height="2.6" fill="#111" stroke="none" stroke-width="1" />
<g transform="translate(886.6 361.0) rotate(43.5)"><rect x="-2.4" y="0" width="4.8" height="31.5" fill="#fff" stroke="#111" stroke-width="1.7"/><rect x="-3.2" y="27.8" width="6.4" height="4.2" fill="#111"/></g>
<circle cx="891.3" cy="363.2" r="2.7" fill="#fff" stroke="#111" stroke-width="1.5" />
<circle cx="885" cy="361.2" r="1.8" fill="#fff" stroke="#111" stroke-width="1.1" />
<circle cx="898.9" cy="362.9" r="1.2" fill="#111" stroke="none" stroke-width="1" />
<path d="M 904.8 395.2 A 3 3 0 0 1 910.8 395.2 Z" fill="#fff" stroke="#111" stroke-width="1.8" />
<path d="M 834.0 409.6 L 860.8 409.6 L 860.8 407.4 L 854.0 407.4 L 854.0 402.4 A 6.3 6.3 0 0 0 841.4 402.4 L 841.4 407.4 L 834.0 407.4 Z" fill="#fff" stroke="#111" stroke-width="1.6" />
<circle cx="847.7" cy="402.8" r="3.2" fill="#fff" stroke="#111" stroke-width="2.2" />
<circle cx="841.2" cy="436.9" r="10.9" fill="#141414" stroke="#06101f" stroke-width="1.8" />
<circle cx="841.2" cy="436.9" r="8.1" fill="none" stroke="#e9e1da" stroke-width="1.5" stroke-dasharray="4.2 2.2"/>
<circle cx="841.2" cy="436.9" r="5" fill="none" stroke="#3a3a3a" stroke-width="0.9" />
<circle cx="841.2" cy="436.9" r="2.2" fill="#fff" stroke="none" stroke-width="1" />
<circle cx="878.9" cy="445.5" r="10.9" fill="#141414" stroke="#06101f" stroke-width="1.8" />
<circle cx="878.9" cy="445.5" r="8.1" fill="none" stroke="#e9e1da" stroke-width="1.5" stroke-dasharray="4.2 2.2"/>
<circle cx="878.9" cy="445.5" r="5" fill="none" stroke="#3a3a3a" stroke-width="0.9" />
<circle cx="878.9" cy="445.5" r="2.2" fill="#fff" stroke="none" stroke-width="1" />
<circle cx="915.5" cy="443.4" r="10.9" fill="#141414" stroke="#06101f" stroke-width="1.8" />
<circle cx="915.5" cy="443.4" r="8.1" fill="none" stroke="#e9e1da" stroke-width="1.5" stroke-dasharray="4.2 2.2"/>
<circle cx="915.5" cy="443.4" r="5" fill="none" stroke="#3a3a3a" stroke-width="0.9" />
<circle cx="915.5" cy="443.4" r="2.2" fill="#fff" stroke="none" stroke-width="1" />
<circle cx="822.5" cy="460.3" r="10.9" fill="#141414" stroke="#06101f" stroke-width="1.8" />
<circle cx="822.5" cy="460.3" r="8.1" fill="none" stroke="#e9e1da" stroke-width="1.5" stroke-dasharray="4.2 2.2"/>
<circle cx="822.5" cy="460.3" r="5" fill="none" stroke="#3a3a3a" stroke-width="0.9" />
<circle cx="822.5" cy="460.3" r="2.2" fill="#fff" stroke="none" stroke-width="1" />
<circle cx="857.8" cy="464" r="10.9" fill="#141414" stroke="#06101f" stroke-width="1.8" />
<circle cx="857.8" cy="464" r="8.1" fill="none" stroke="#e9e1da" stroke-width="1.5" stroke-dasharray="4.2 2.2"/>
<circle cx="857.8" cy="464" r="5" fill="none" stroke="#3a3a3a" stroke-width="0.9" />
<circle cx="857.8" cy="464" r="2.2" fill="#fff" stroke="none" stroke-width="1" />
<circle cx="839" cy="476.2" r="9.8" fill="#fff" stroke="#0b2350" stroke-width="1.5" />
<path d="M 886.0 462.2 L 922 462.2 A 5.4 5.4 0 0 1 922 473.0 L 885.6 473.0 A 9.3 9.3 0 1 1 886.0 462.2 Z" fill="#fff" stroke="#0b2350" stroke-width="1.4" />
<rect x="941.4" y="386.4" width="15.4" height="14.4" fill="#fff" stroke="#111" stroke-width="1.8" />
<line x1="941.4" y1="391.2" x2="956.8" y2="391.2" stroke="#111" stroke-width="1.6" />
<line x1="941.4" y1="396" x2="956.8" y2="396" stroke="#111" stroke-width="1.6" />
<rect x="960" y="392" width="22" height="3.4" fill="#fff" stroke="#111" stroke-width="1.1" />
<line x1="982" y1="393.7" x2="993" y2="393.7" stroke="#111" stroke-width="2.2" />
<rect x="992.2" y="389.4" width="36.6" height="8.6" fill="#fff" stroke="#111" stroke-width="1.5" rx="4.3" />
<rect x="993" y="390.2" width="21.6" height="7" fill="#20252c" stroke="none" stroke-width="1" rx="3" />
<line x1="998" y1="392.4" x2="1011" y2="392.4" stroke="#ddd" stroke-width="1" />
<line x1="998" y1="395.2" x2="1011" y2="395.2" stroke="#ddd" stroke-width="1" />
<line x1="999.6" y1="423.4" x2="1013.8" y2="423.4" stroke="#0b0b0b" stroke-width="3.2" />
<line x1="999.6" y1="423.4" x2="1013.8" y2="423.4" stroke="#fff" stroke-width="1" />
<line x1="1039.5" y1="459" x2="1052.6" y2="459" stroke="#0b0b0b" stroke-width="3.2" />
<line x1="1039.5" y1="459" x2="1052.6" y2="459" stroke="#fff" stroke-width="1" />
<rect x="1013.6" y="406.6" width="48.2" height="34.6" fill="#0b0b0b" stroke="#050505" stroke-width="0.8" />
<rect x="1016.6" y="409" width="3.8" height="3.2" fill="#fff" stroke="none" stroke-width="1" />
<rect x="1025" y="409" width="13" height="3.2" fill="#fff" stroke="none" stroke-width="1" />
<rect x="1043.2" y="409" width="13.2" height="3.2" fill="#fff" stroke="none" stroke-width="1" />
<rect x="1016.6" y="435.6" width="3.8" height="3.2" fill="#fff" stroke="none" stroke-width="1" />
<rect x="1025" y="435.6" width="13" height="3.2" fill="#fff" stroke="none" stroke-width="1" />
<rect x="1043.2" y="435.6" width="13.2" height="3.2" fill="#fff" stroke="none" stroke-width="1" />
<path d="M 1016.6 417.3 L 1052.6 417.3 A 6.2 6.2 0 0 1 1052.6 429.7 L 1016.6 429.7 Z" fill="#fff" stroke="none" stroke-width="1" />
<rect x="1020.8" y="417.1" width="2.4" height="12.8" fill="#0b0b0b" stroke="none" stroke-width="1" />
<ellipse cx="1033.2" cy="423.5" rx="9.6" ry="6.6" fill="#fff" stroke="#0b0b0b" stroke-width="1.6"/>
<circle cx="1033.2" cy="423.5" r="4" fill="#fff" stroke="#0b0b0b" stroke-width="2.2" />
<circle cx="1033.2" cy="423.5" r="0.8" fill="#0b0b0b" stroke="none" stroke-width="1" />
<rect x="1044" y="417.1" width="2.2" height="12.8" fill="#0b0b0b" stroke="none" stroke-width="1" />
<rect x="1052.6" y="442.2" width="48.2" height="34.6" fill="#0b0b0b" stroke="#050505" stroke-width="0.8" />
<rect x="1055.6" y="444.6" width="3.8" height="3.2" fill="#fff" stroke="none" stroke-width="1" />
<rect x="1064" y="444.6" width="13" height="3.2" fill="#fff" stroke="none" stroke-width="1" />
<rect x="1082.2" y="444.6" width="13.2" height="3.2" fill="#fff" stroke="none" stroke-width="1" />
<rect x="1055.6" y="471.2" width="3.8" height="3.2" fill="#fff" stroke="none" stroke-width="1" />
<rect x="1064" y="471.2" width="13" height="3.2" fill="#fff" stroke="none" stroke-width="1" />
<rect x="1082.2" y="471.2" width="13.2" height="3.2" fill="#fff" stroke="none" stroke-width="1" />
<path d="M 1055.6 452.9 L 1091.6 452.9 A 6.2 6.2 0 0 1 1091.6 465.3 L 1055.6 465.3 Z" fill="#fff" stroke="none" stroke-width="1" />
<rect x="1059.8" y="452.7" width="2.4" height="12.8" fill="#0b0b0b" stroke="none" stroke-width="1" />
<ellipse cx="1072.2" cy="459.1" rx="9.6" ry="6.6" fill="#fff" stroke="#0b0b0b" stroke-width="1.6"/>
<circle cx="1072.2" cy="459.1" r="4" fill="#fff" stroke="#0b0b0b" stroke-width="2.2" />
<circle cx="1072.2" cy="459.1" r="0.8" fill="#0b0b0b" stroke="none" stroke-width="1" />
<rect x="1083" y="452.7" width="2.2" height="12.8" fill="#0b0b0b" stroke="none" stroke-width="1" />
<rect x="971.4" y="418.2" width="28.4" height="10.4" fill="#fff" stroke="#0b0b0b" stroke-width="2.4" />
<rect x="977.6" y="418" width="2.8" height="10.8" fill="#0b0b0b" stroke="none" stroke-width="1" />
<rect x="991.6" y="418" width="2.8" height="10.8" fill="#0b0b0b" stroke="none" stroke-width="1" />
<circle cx="975" cy="423.4" r="1.5" fill="#fff" stroke="#0b0b0b" stroke-width="0.9" />
<circle cx="996.6" cy="423.4" r="1.5" fill="#fff" stroke="#0b0b0b" stroke-width="0.9" />
<rect x="1010.4" y="453.8" width="28.4" height="10.4" fill="#fff" stroke="#0b0b0b" stroke-width="2.4" />
<rect x="1016.6" y="453.6" width="2.8" height="10.8" fill="#0b0b0b" stroke="none" stroke-width="1" />
<rect x="1030.6" y="453.6" width="2.8" height="10.8" fill="#0b0b0b" stroke="none" stroke-width="1" />
<circle cx="1014" cy="459" r="1.5" fill="#fff" stroke="#0b0b0b" stroke-width="0.9" />
<circle cx="1035.6" cy="459" r="1.5" fill="#fff" stroke="#0b0b0b" stroke-width="0.9" />
<rect x="858.4" y="491" width="21.4" height="50.8" fill="#fff" stroke="#111" stroke-width="2" />
<rect x="858.4" y="491" width="21.4" height="10.5" fill="#111" stroke="none" stroke-width="1" />
<rect x="858.4" y="533.5" width="21.4" height="8.3" fill="#111" stroke="none" stroke-width="1" />
<rect x="863.2" y="493.8" width="3" height="4.4" fill="#fff" stroke="none" stroke-width="1" />
<rect x="872" y="493.8" width="3" height="4.4" fill="#fff" stroke="none" stroke-width="1" />
<circle cx="869.1" cy="496" r="1.2" fill="#fff" stroke="none" stroke-width="1" />
<rect x="863.2" y="535.4" width="3" height="4.4" fill="#fff" stroke="none" stroke-width="1" />
<rect x="872" y="535.4" width="3" height="4.4" fill="#fff" stroke="none" stroke-width="1" />
<circle cx="869.1" cy="537.6" r="1.2" fill="#fff" stroke="none" stroke-width="1" />
<line x1="823.5" y1="501.4" x2="850" y2="501.4" stroke="#111" stroke-width="2" />
<circle cx="837.2" cy="507" r="6.9" fill="#0d0d0d" stroke="none" stroke-width="1" />
<circle cx="837.4" cy="507.2" r="2.6" fill="#fff" stroke="none" stroke-width="1" />
<rect x="960.8" y="501.3" width="15.4" height="13.9" fill="#fff" stroke="#111" stroke-width="1.2" />
<line x1="960.8" y1="505.2" x2="976.2" y2="505.2" stroke="#111" stroke-width="1" />
<line x1="960.8" y1="510.6" x2="976.2" y2="510.6" stroke="#111" stroke-width="1" />
<rect x="976.2" y="505.6" width="25.6" height="3.6" fill="#fff" stroke="#111" stroke-width="1" />
<rect x="1001.8" y="503.2" width="3" height="8.4" fill="#111" stroke="none" stroke-width="1" />
<rect x="1004.6" y="500.4" width="50.4" height="20" fill="#fff" stroke="#111" stroke-width="1.3" />
<rect x="1009.6" y="500.4" width="39.2" height="14.6" fill="#fff" stroke="#111" stroke-width="1.1" />
<line x1="1009.6" y1="507.4" x2="1024" y2="507.4" stroke="#111" stroke-width="2" />
<circle cx="1029.9" cy="507.4" r="6" fill="#fff" stroke="#111" stroke-width="1.4" />
<circle cx="1029.9" cy="507.4" r="3" fill="#111" stroke="none" stroke-width="1" />
<!-- air compressor -->
<line x1="1144" y1="421.3" x2="1245.3" y2="421.3" stroke="#111" stroke-width="1.4" />
<polyline points="1242.6,429.5 1242.6,424.2 1246.6,424.2 1246.6,429.5" fill="none" stroke="#111" stroke-width="1.6" />
<line x1="1245.3" y1="421.3" x2="1245.3" y2="424.2" stroke="#111" stroke-width="1.6" />
<polygon points="1143.3,419.6 1137,419.6 1137,416.1 1118.91,421.3 1137,426.5 1137,423 1143.3,423" fill="#fff" stroke="#111" stroke-width="1.4" stroke-linejoin="miter" />
<polygon points="1190.6,412.1 1190.6,430.5 1199.8,421.3" fill="#fff" stroke="#111" stroke-width="1.4" stroke-linejoin="miter" />
<polygon points="1209,412.1 1209,430.5 1199.8,421.3" fill="#fff" stroke="#111" stroke-width="1.4" stroke-linejoin="miter" />
<line x1="1199.8" y1="421.3" x2="1199.8" y2="404.9" stroke="#111" stroke-width="1.4" />
<line x1="1193.2" y1="404.9" x2="1206.4" y2="404.9" stroke="#111" stroke-width="1.4" />
<path d="M 1249.6 430 L 1249.6 407 Q 1250 395 1260.4 394.6 Q 1263.5 394.6 1267 395.8 L 1313.6 409.4 Q 1320.2 411.6 1320.2 418 L 1320.2 430 Z" fill="#22a7e2" stroke="#0c2848" stroke-width="1.6" />
<circle cx="1258.4" cy="409.4" r="3.9" fill="#14161c" stroke="none" stroke-width="1" />
<circle cx="1268.6" cy="404.4" r="3.9" fill="#14161c" stroke="none" stroke-width="1" />
<circle cx="1278.8" cy="409.4" r="3.9" fill="#14161c" stroke="none" stroke-width="1" />
<line x1="1259.4" y1="410" x2="1266" y2="416" stroke="#14161c" stroke-width="5" />
<line x1="1277.8" y1="410" x2="1271.4" y2="416" stroke="#14161c" stroke-width="5" />
<line x1="1268.6" y1="405" x2="1268.6" y2="413" stroke="#14161c" stroke-width="5.6" />
<path d="M 1263.8 424.4 L 1263.8 415 A 4.9 4.9 0 0 1 1273.6 415 L 1273.6 424.4 Z" fill="#5c80da" stroke="#27408f" stroke-width="1" />
<rect x="1256.4" y="424.2" width="24.6" height="5.4" fill="#6b86cf" stroke="#27408f" stroke-width="1" />
<circle cx="1310.2" cy="419.6" r="6.4" fill="#0c2a55" stroke="#071a38" stroke-width="1.6" />
<circle cx="1309.8" cy="419.8" r="2.9" fill="#1f4c9a" stroke="none" stroke-width="1" />
<rect x="1304.5" y="425.6" width="11.5" height="4" fill="#123a6e" stroke="none" stroke-width="1" />
<rect x="1219.6" y="429.6" width="124.6" height="45" fill="#17a2dd" stroke="#0c2848" stroke-width="1.8" rx="22.4" />
<line x1="1232" y1="436" x2="1332" y2="436" stroke="#2db2ec" stroke-width="1.6" opacity="0.7"/>
<line x1="1249" y1="441" x2="1309" y2="441" stroke="#2db2ec" stroke-width="1.6" opacity="0.7"/>
<line x1="1241" y1="446" x2="1316" y2="446" stroke="#2db2ec" stroke-width="1.6" opacity="0.7"/>
<line x1="1233" y1="451" x2="1323" y2="451" stroke="#2db2ec" stroke-width="1.6" opacity="0.7"/>
<line x1="1250" y1="456" x2="1330" y2="456" stroke="#2db2ec" stroke-width="1.6" opacity="0.7"/>
<line x1="1242" y1="461" x2="1307" y2="461" stroke="#2db2ec" stroke-width="1.6" opacity="0.7"/>
<line x1="1234" y1="466" x2="1314" y2="466" stroke="#2db2ec" stroke-width="1.6" opacity="0.7"/>
<line x1="1251" y1="471" x2="1321" y2="471" stroke="#2db2ec" stroke-width="1.6" opacity="0.7"/>
<circle cx="1254.2" cy="481.8" r="6.6" fill="#151515" stroke="#000" stroke-width="1" />
<circle cx="1254.2" cy="481.8" r="3.6" fill="none" stroke="#555" stroke-width="0.8" />
<line x1="1249.7" y1="481.8" x2="1258.7" y2="481.8" stroke="#555" stroke-width="0.7" />
<line x1="1254.2" y1="477.3" x2="1254.2" y2="486.3" stroke="#555" stroke-width="0.7" />
<circle cx="1309" cy="481.8" r="6.6" fill="#151515" stroke="#000" stroke-width="1" />
<circle cx="1309" cy="481.8" r="3.6" fill="none" stroke="#555" stroke-width="0.8" />
<line x1="1304.5" y1="481.8" x2="1313.5" y2="481.8" stroke="#555" stroke-width="0.7" />
<line x1="1309" y1="477.3" x2="1309" y2="486.3" stroke="#555" stroke-width="0.7" />
<!-- washing pump -->
<polyline points="1144,457 1163.7,457 1163.7,641.6" fill="none" stroke="#111" stroke-width="1.4" />
<polygon points="1143.3,455.3 1137,455.3 1137,451.8 1118.91,457 1137,462.2 1137,458.7 1143.3,458.7" fill="#fff" stroke="#111" stroke-width="1.4" stroke-linejoin="miter" />
<polygon points="1154.7,605 1172.7,605 1163.7,614" fill="#fff" stroke="#111" stroke-width="1.4" stroke-linejoin="miter" />
<polygon points="1154.7,623 1172.7,623 1163.7,614" fill="#fff" stroke="#111" stroke-width="1.4" stroke-linejoin="miter" />
<line x1="1163.7" y1="614" x2="1180.3" y2="614" stroke="#111" stroke-width="1.4" />
<line x1="1180.3" y1="607.8" x2="1180.3" y2="620.2" stroke="#111" stroke-width="1.4" />
<rect x="1084.7" y="683.6" width="73.7" height="4.4" fill="#2c3f7c" stroke="#1c2a5a" stroke-width="0.8" />
<rect x="1098" y="680.8" width="2.2" height="3" fill="#fff" stroke="#223" stroke-width="0.8" />
<rect x="1137.2" y="680.8" width="2.4" height="3" fill="#fff" stroke="#223" stroke-width="0.8" />
<polygon points="1092.6,649.8 1089.5,649.8 1084.8,656.5 1084.8,674.5 1089.5,680.8 1092.6,680.8" fill="#3f76be" stroke="#0c2848" stroke-width="1.2" stroke-linejoin="miter" />
<line x1="1085.2" y1="657" x2="1092.2" y2="655.8" stroke="#1b3f7c" stroke-width="0.9" />
<line x1="1085.2" y1="661.5" x2="1092.2" y2="660.3" stroke="#1b3f7c" stroke-width="0.9" />
<line x1="1085.2" y1="666" x2="1092.2" y2="664.8" stroke="#1b3f7c" stroke-width="0.9" />
<line x1="1085.2" y1="670.5" x2="1092.2" y2="669.3" stroke="#1b3f7c" stroke-width="0.9" />
<line x1="1085.2" y1="675" x2="1092.2" y2="673.8" stroke="#1b3f7c" stroke-width="0.9" />
<rect x="1092.6" y="649.6" width="5.4" height="31.4" fill="#fff" stroke="#0c2848" stroke-width="1.1" />
<rect x="1111" y="644.2" width="15.3" height="6" fill="#3f76be" stroke="#2a579c" stroke-width="1" />
<polygon points="1098,649.6 1139.6,649.6 1147.4,656.4 1147.4,673.2 1139.6,681 1098,681" fill="#3f76be" stroke="#0c2848" stroke-width="1.3" stroke-linejoin="miter" />
<line x1="1139.6" y1="649.6" x2="1139.6" y2="681" stroke="#0c2848" stroke-width="1" />
<line x1="1100.6" y1="656.8" x2="1136.8" y2="656.8" stroke="#10285c" stroke-width="1.9" />
<line x1="1100.6" y1="662.6" x2="1136.8" y2="662.6" stroke="#10285c" stroke-width="1.9" />
<line x1="1100.6" y1="668.4" x2="1136.8" y2="668.4" stroke="#10285c" stroke-width="1.9" />
<line x1="1100.6" y1="674.2" x2="1136.8" y2="674.2" stroke="#10285c" stroke-width="1.9" />
<rect x="1147.4" y="656.4" width="10.8" height="16.8" fill="#fff" stroke="#111" stroke-width="1.3" />
<path d="M 1158.2 645 L 1168.4 645 L 1168.4 649 Q 1168.6 659 1176.6 659.4 L 1177.4 659.4 L 1177.4 670.4 L 1168.6 670.4 L 1168.6 673.4 L 1158.2 673.4 Z" fill="#fff" stroke="#111" stroke-width="1.3" />
<rect x="1148.4" y="641.6" width="29" height="3.4" fill="#fff" stroke="#111" stroke-width="1.2" />
<rect x="1177.4" y="651" width="4" height="28.4" fill="#fff" stroke="#111" stroke-width="1.2" />
<polygon points="1220.7,663.3 1214.2,663.3 1214.2,659.6 1196.69,665.2 1214.2,670.8 1214.2,667.1 1220.7,667.1" fill="#fff" stroke="#111" stroke-width="1.8" stroke-linejoin="miter" />
<!-- thickener -->
<polygon points="142.6,611.6 443.9,611.6 443.9,717.8 308.1,779.3 308.1,806.8 279.1,806.8 279.1,779.3 142.6,717.8" fill="#f7a082" stroke="none" stroke-width="1" stroke-linejoin="miter" />
<polyline points="115,594.6 142.6,594.6 142.6,717.8 279.1,779.3 279.1,806.8 308.1,806.8 308.1,779.3 443.9,717.8 443.9,594.6 471.4,594.6" fill="none" stroke="#1a1a1a" stroke-width="1.5" />
<line x1="142.6" y1="611.6" x2="443.9" y2="611.6" stroke="#1a1a1a" stroke-width="1.5" />
<!-- sludge pump -->
<polyline points="293,806.8 293,822.6 456.4,822.6 456.4,856" fill="none" stroke="#111" stroke-width="1.4" />
<polygon points="366,813.3 366,831.9 375.3,822.6" fill="#fff" stroke="#111" stroke-width="1.4" stroke-linejoin="miter" />
<polygon points="384.6,813.3 384.6,831.9 375.3,822.6" fill="#fff" stroke="#111" stroke-width="1.4" stroke-linejoin="miter" />
<line x1="375.3" y1="822.6" x2="375.3" y2="805.8" stroke="#111" stroke-width="1.4" />
<line x1="368.9" y1="805.8" x2="381.7" y2="805.8" stroke="#111" stroke-width="1.4" />
<polygon points="454.7,855.8 454.7,861.1 450.9,861.1 456.4,878.02 461.9,861.1 458.1,861.1 458.1,855.8" fill="#fff" stroke="#111" stroke-width="1.4" stroke-linejoin="miter" />
<line x1="456.4" y1="880.6" x2="456.4" y2="888.7" stroke="#111" stroke-width="1.4" />
<polyline points="519.3,918.5 636,918.5 636,268.4 661,268.4" fill="none" stroke="#111" stroke-width="1.4" />
<polygon points="567.7,908.7 567.7,928.3 577.5,918.5" fill="#fff" stroke="#111" stroke-width="1.4" stroke-linejoin="miter" />
<polygon points="587.3,908.7 587.3,928.3 577.5,918.5" fill="#fff" stroke="#111" stroke-width="1.4" stroke-linejoin="miter" />
<line x1="577.5" y1="918.5" x2="577.5" y2="901.7" stroke="#111" stroke-width="1.4" />
<line x1="571.3" y1="901.7" x2="583.7" y2="901.7" stroke="#111" stroke-width="1.4" />
<rect x="360.1" y="937.2" width="144.3" height="4.8" fill="#232c72" stroke="#161d55" stroke-width="0.8" />
<rect x="373" y="934.2" width="2.6" height="3" fill="#fff" stroke="#223" stroke-width="0.7" />
<rect x="413.6" y="934.2" width="2.6" height="3" fill="#fff" stroke="#223" stroke-width="0.7" />
<rect x="454.4" y="934.2" width="2.6" height="3" fill="#fff" stroke="#223" stroke-width="0.7" />
<rect x="495" y="934.2" width="2.6" height="3" fill="#fff" stroke="#223" stroke-width="0.7" />
<polygon points="367.1,903 364.6,903 360.3,909.6 360.3,927.6 364.6,934 367.1,934" fill="#3f76be" stroke="#0c2848" stroke-width="1.1" stroke-linejoin="miter" />
<line x1="360.8" y1="909.8" x2="366.8" y2="908.4" stroke="#1b3f7c" stroke-width="0.9" />
<line x1="360.8" y1="914.3" x2="366.8" y2="912.9" stroke="#1b3f7c" stroke-width="0.9" />
<line x1="360.8" y1="918.8" x2="366.8" y2="917.4" stroke="#1b3f7c" stroke-width="0.9" />
<line x1="360.8" y1="923.3" x2="366.8" y2="921.9" stroke="#1b3f7c" stroke-width="0.9" />
<line x1="360.8" y1="927.8" x2="366.8" y2="926.4" stroke="#1b3f7c" stroke-width="0.9" />
<rect x="367.1" y="902.8" width="5.6" height="31.4" fill="#fff" stroke="#0c2848" stroke-width="1.1" />
<rect x="387" y="897.2" width="14.7" height="6" fill="#3f76be" stroke="#2a579c" stroke-width="1" />
<polygon points="372.7,902.8 415.8,902.8 422.3,909.9 422.3,926.9 415.8,934.2 372.7,934.2" fill="#3f76be" stroke="#0c2848" stroke-width="1.3" stroke-linejoin="miter" />
<line x1="415.8" y1="902.8" x2="415.8" y2="934.2" stroke="#0c2848" stroke-width="1" />
<line x1="376" y1="909.9" x2="411.7" y2="909.9" stroke="#10285c" stroke-width="1.9" />
<line x1="376" y1="915.3" x2="411.7" y2="915.3" stroke="#10285c" stroke-width="1.9" />
<line x1="376" y1="920.8" x2="411.7" y2="920.8" stroke="#10285c" stroke-width="1.9" />
<line x1="376" y1="926.2" x2="411.7" y2="926.2" stroke="#10285c" stroke-width="1.9" />
<rect x="422.3" y="915.6" width="25.1" height="6.4" fill="#fff" stroke="#111" stroke-width="1.1" />
<ellipse cx="435.3" cy="918.6" rx="7.0" ry="9.4" fill="#3f76be" stroke="#0c2848" stroke-width="1.4"/>
<line x1="431.4" y1="911.5" x2="431.4" y2="925.8" stroke="#1b3f7c" stroke-width="1" />
<line x1="438.8" y1="911.5" x2="438.8" y2="925.8" stroke="#1b3f7c" stroke-width="1" />
<rect x="449.9" y="892.8" width="13" height="10.4" fill="#fff" stroke="#111" stroke-width="1.2" />
<rect x="441.3" y="888.7" width="29.3" height="4.1" fill="#fff" stroke="#111" stroke-width="1.2" />
<rect x="447.2" y="903" width="56.8" height="31.2" fill="#3f76be" stroke="#0c2848" stroke-width="1.4" />
<rect x="504" y="913.1" width="10.9" height="11.4" fill="#fff" stroke="#111" stroke-width="1.2" />
<rect x="514.9" y="904.2" width="4.4" height="28.7" fill="#fff" stroke="#111" stroke-width="1.2" />
<!-- truck -->
<path d="M 695.7 795.9 L 695.7 773.6 C 712 768 730 760.4 749 760.2 C 778 760 800 769.4 830.5 768.8 C 862 768.2 872 752.8 896.4 752.6 C 924 752.4 940 770.8 970 770.6 C 996 770.4 1018 759.6 1041.7 758 L 1041.7 795.9 Z" fill="#f7a585" stroke="#151515" stroke-width="1.7" />
<polygon points="681.3,752.6 695.7,752.6 695.7,795.9 1041.7,795.9 1041.7,752.6 1083.2,752.6 1083.2,953.6 681.3,953.6" fill="#dddddd" stroke="#151515" stroke-width="1.9" stroke-linejoin="miter" />
<polygon points="1083.2,752.6 1185,752.6 1256,809.4 1256,953.6 1083.2,953.6" fill="#4077bd" stroke="#10306a" stroke-width="1.9" stroke-linejoin="miter" />
<polygon points="1110.3,778.4 1159.9,778.4 1234.3,835.8 1110.3,835.8" fill="#fff" stroke="#151515" stroke-width="1.8" stroke-linejoin="miter" />
<path d="M 710.1 953.6 A 57.6 57.6 0 0 1 825.3 953.6 Z" fill="#5a5a5a" stroke="#151515" stroke-width="1.8" />
<circle cx="767.7" cy="953.6" r="43.4" fill="#555555" stroke="#151515" stroke-width="2.2" />
<circle cx="767.7" cy="953.6" r="22.4" fill="#fff" stroke="#151515" stroke-width="2" />
<path d="M 1112 953.6 A 57.6 57.6 0 0 1 1227.2 953.6 Z" fill="#5a5a5a" stroke="#151515" stroke-width="1.8" />
<circle cx="1169.6" cy="953.6" r="43.4" fill="#555555" stroke="#151515" stroke-width="2.2" />
<circle cx="1169.6" cy="953.6" r="22.4" fill="#fff" stroke="#151515" stroke-width="2" />
<!-- labels -->
<text x="65.9" y="225.1" font-size="15.8" font-weight="normal" fill="#2a2a2a" textLength="74.1" lengthAdjust="spacingAndGlyphs" font-family="'Liberation Serif','Times New Roman',serif" >POLYMER</text>
<text x="75.7" y="403.9" font-size="15.8" font-weight="normal" fill="#2a2a2a" textLength="54.3" lengthAdjust="spacingAndGlyphs" font-family="'Liberation Serif','Times New Roman',serif" >WATER</text>
<text x="280.9" y="212.2" font-size="15.8" font-weight="normal" fill="#2a2a2a" textLength="186.6" lengthAdjust="spacingAndGlyphs" font-family="'Liberation Serif','Times New Roman',serif" >POLYMER PREPARATION</text>
<text x="343.9" y="230" font-size="15.8" font-weight="normal" fill="#2a2a2a" textLength="60.7" lengthAdjust="spacingAndGlyphs" font-family="'Liberation Serif','Times New Roman',serif" >SYSTEM</text>
<text x="546.6" y="416" font-size="15.8" font-weight="normal" fill="#2a2a2a" textLength="80.4" lengthAdjust="spacingAndGlyphs" font-family="'Liberation Serif','Times New Roman',serif" >CHEMICAL</text>
<text x="565.6" y="433.2" font-size="15.8" font-weight="normal" fill="#2a2a2a" textLength="43" lengthAdjust="spacingAndGlyphs" font-family="'Liberation Serif','Times New Roman',serif" >PUMP</text>
<text x="859.5" y="130" font-size="15.8" font-weight="normal" fill="#2a2a2a" textLength="145.5" lengthAdjust="spacingAndGlyphs" font-family="'Liberation Serif','Times New Roman',serif" >BELT FILTER PRESS</text>
<text x="1217.6" y="355" font-size="15.8" font-weight="normal" fill="#2a2a2a" textLength="133.3" lengthAdjust="spacingAndGlyphs" font-family="'Liberation Serif','Times New Roman',serif" >AIR COMPRESSOR</text>
<text x="766.8" y="678.3" font-size="15.8" font-weight="normal" fill="#2a2a2a" textLength="41.8" lengthAdjust="spacingAndGlyphs" font-family="'Liberation Serif','Times New Roman',serif" >CAKE</text>
<text x="1229.4" y="669" font-size="15.8" font-weight="normal" fill="#2a2a2a" textLength="130.6" lengthAdjust="spacingAndGlyphs" font-family="'Liberation Serif','Times New Roman',serif" >WASHING WATER</text>
<text x="1076.6" y="717.6" font-size="15.8" font-weight="normal" fill="#2a2a2a" textLength="118.9" lengthAdjust="spacingAndGlyphs" font-family="'Liberation Serif','Times New Roman',serif" >WASHING PUMP</text>
<text x="151.7" y="791.6" font-size="15.8" font-weight="normal" fill="#2a2a2a" textLength="87.1" lengthAdjust="spacingAndGlyphs" font-family="'Liberation Serif','Times New Roman',serif" >THICKENER</text>
<text x="379.8" y="976" font-size="15.8" font-weight="normal" fill="#2a2a2a" textLength="107.8" lengthAdjust="spacingAndGlyphs" font-family="'Liberation Serif','Times New Roman',serif" >SLUDGE PUMP</text>
<polygon points="148.7,219.1 154.8,219.1 154.8,215.6 171.56,220.8 154.8,226 154.8,222.5 148.7,222.5" fill="#fff" stroke="#111" stroke-width="1.8" stroke-linejoin="miter" />
<polygon points="154.1,397.5 160.2,397.5 160.2,394 177.12,399.2 160.2,404.4 160.2,400.9 154.1,400.9" fill="#fff" stroke="#111" stroke-width="1.8" stroke-linejoin="miter" />
</svg>
</body></html>
